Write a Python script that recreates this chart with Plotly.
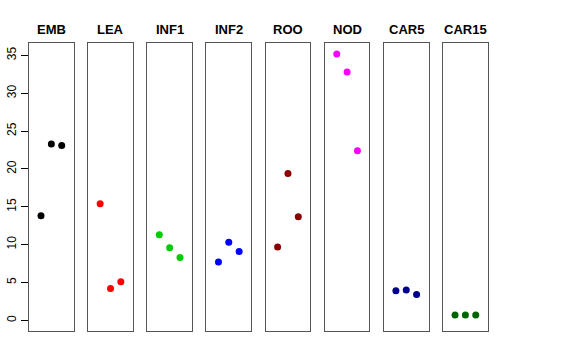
import plotly.graph_objects as go

tissues = ["EMB", "LEA", "INF1", "INF2", "ROO", "NOD", "CAR5", "CAR15"]
replicate = [1, 2, 3]
rep1 = [13.8, 15.4, 11.3, 7.7, 9.7, 35.2, 3.9, 0.7]
rep2 = [23.3, 4.2, 9.6, 10.3, 19.4, 32.8, 4.0, 0.7]
rep3 = [23.1, 5.1, 8.3, 9.1, 13.7, 22.4, 3.4, 0.7]
colors = ["#000000", "#FF0000", "#00CD00", "#0000FF", "#8B0000", "#FF00FF", "#00008B", "#006400"]
y_ticks = [0, 5, 10, 15, 20, 25, 30, 35]

W, H = 576, 360
left0, pitch, pw = 29.0, 59.15, 44.7
top_px, bot_px = 43.3, 331.0

fig = go.Figure()
layout = dict(
    width=W, height=H,
    margin=dict(l=0, r=0, t=0, b=0),
    paper_bgcolor="white", plot_bgcolor="white",
    showlegend=False,
    font=dict(family="Liberation Sans, Arial, sans-serif", color="black"),
)
annotations = []
for i, name in enumerate(tissues):
    k = "" if i == 0 else str(i + 1)
    x0 = (left0 + pitch * i) / W
    x1 = (left0 + pitch * i + pw) / W
    fig.add_trace(go.Scatter(
        x=replicate, y=[rep1[i], rep2[i], rep3[i]],
        mode="markers",
        marker=dict(color=colors[i], size=7, line=dict(width=0)),
        xaxis="x" + k, yaxis="y" + k,
        hoverinfo="y",
    ))
    layout["xaxis" + k] = dict(
        domain=[x0, x1], range=[-0.16, 4.16],
        showticklabels=False, ticks="", showgrid=False, zeroline=False,
        showline=True, mirror=True, linecolor="#555555", linewidth=1,
        anchor="y" + k, fixedrange=True,
    )
    ydict = dict(
        domain=[1 - bot_px / H, 1 - top_px / H], range=[-1.41, 36.6],
        showgrid=False, zeroline=False,
        showline=True, mirror=True, linecolor="#555555", linewidth=1,
        anchor="x" + k, fixedrange=True,
    )
    if i == 0:
        ydict.update(
            tickvals=y_ticks, ticktext=[str(v) for v in y_ticks],
            ticks="outside", ticklen=7, tickcolor="black", tickwidth=1,
            tickangle=-90, tickfont=dict(size=12, color="black"),
            showticklabels=True,
        )
    else:
        ydict.update(showticklabels=False, ticks="")
    layout["yaxis" + k] = ydict
    annotations.append(dict(
        text="<b>" + name + "</b>", xref="paper", yref="paper",
        x=(x0 + x1) / 2, y=1 - 29 / H, xanchor="center", yanchor="middle",
        showarrow=False, font=dict(size=13, color="black"),
    ))
layout["annotations"] = annotations
fig.update_layout(**layout)
fig.write_html(
    "out.html",
    config={"displayModeBar": False},
    post_script="document.body.style.margin='0';document.body.style.overflow='hidden';",
)
